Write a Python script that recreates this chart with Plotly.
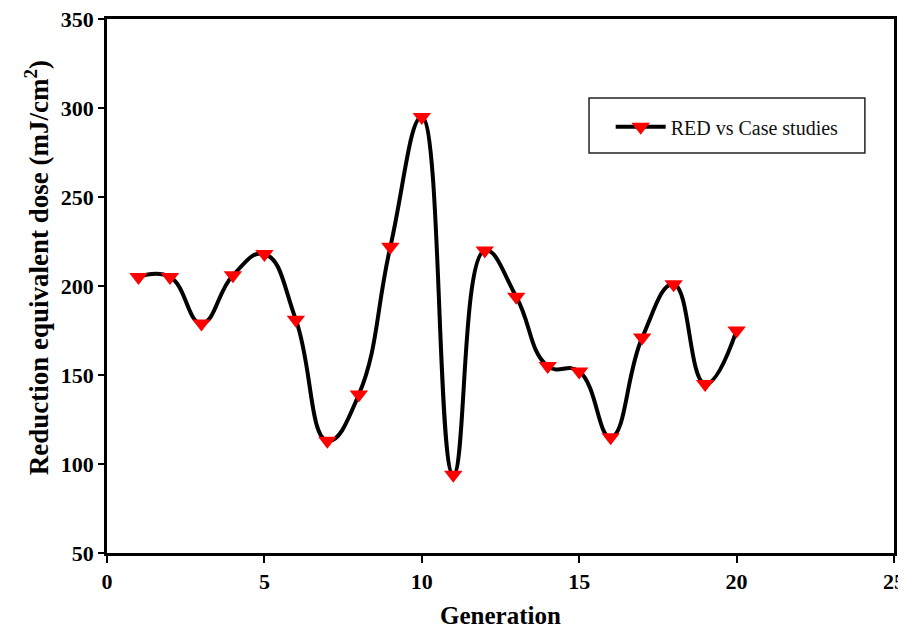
import plotly.graph_objects as go

generation = list(range(1, 21))
red_dose = [205, 205, 179, 206, 218, 181, 113, 139, 222, 295,
            94, 220, 194, 155, 152, 115, 171, 201, 145, 175]

x_ticks = [0, 5, 10, 15, 20, 25]
y_ticks = [50, 100, 150, 200, 250, 300, 350]

serif = "Liberation Serif"

fig = go.Figure()
fig.add_trace(go.Scatter(
    x=generation, y=red_dose,
    mode="lines+markers",
    line=dict(color="black", width=4, shape="spline", smoothing=1.3),
    marker=dict(symbol="triangle-down", size=16, color="#ff0000", line=dict(width=0)),
    name="RED vs Case studies",
))

# the page has an 8px body margin, so the figure is shifted by 8px
fig.update_layout(
    width=906, height=629,
    paper_bgcolor="white", plot_bgcolor="white",
    margin=dict(l=99, r=20, t=11, b=84),
    font=dict(family=serif, color="black"),
    showlegend=True,
    legend=dict(
        x=0.64, y=0.798, xanchor="left", yanchor="middle",
        bgcolor="rgba(0,0,0,0)", borderwidth=0, itemwidth=50,
        font=dict(family=serif, size=20, color="#111"),
    ),
    xaxis=dict(
        range=[0, 25], tickvals=x_ticks, showgrid=False, zeroline=False,
        showline=True, linecolor="black", linewidth=2.5, mirror=True,
        ticks="outside", ticklen=7, tickwidth=1.5, tickcolor="black",
        ticklabelstandoff=0, automargin=False, ticklabeloverflow="allow",
        tickfont=dict(family=serif, size=22, color="black", weight="bold"),
    ),
    yaxis=dict(
        range=[50, 350], tickvals=y_ticks, showgrid=False, zeroline=False,
        showline=True, linecolor="black", linewidth=2.5, mirror=True,
        ticks="outside", ticklen=6, tickwidth=1.5, tickcolor="black",
        ticklabelstandoff=0, automargin=False, ticklabeloverflow="allow",
        tickfont=dict(family=serif, size=22, color="black", weight="bold"),
    ),
    shapes=[dict(
        type="rect", xref="paper", yref="paper",
        x0=0.6125, x1=0.963, y0=0.749, y1=0.852,
        line=dict(color="#222", width=1.5),
    )],
    annotations=[
        dict(
            text="<b>Generation</b>",
            xref="paper", yref="paper", x=0.5, y=-0.117,
            xanchor="center", yanchor="middle", showarrow=False,
            font=dict(family=serif, size=25, color="black"),
        ),
        dict(
            text="<b>Reduction equivalent dose (mJ/cm<sup>2</sup>)</b>",
            xref="paper", yref="paper", x=-0.089, y=0.535,
            xanchor="center", yanchor="middle", textangle=-90, showarrow=False,
            font=dict(family=serif, size=27, color="black"),
        ),
    ],
)

fig.write_html("out.html")
